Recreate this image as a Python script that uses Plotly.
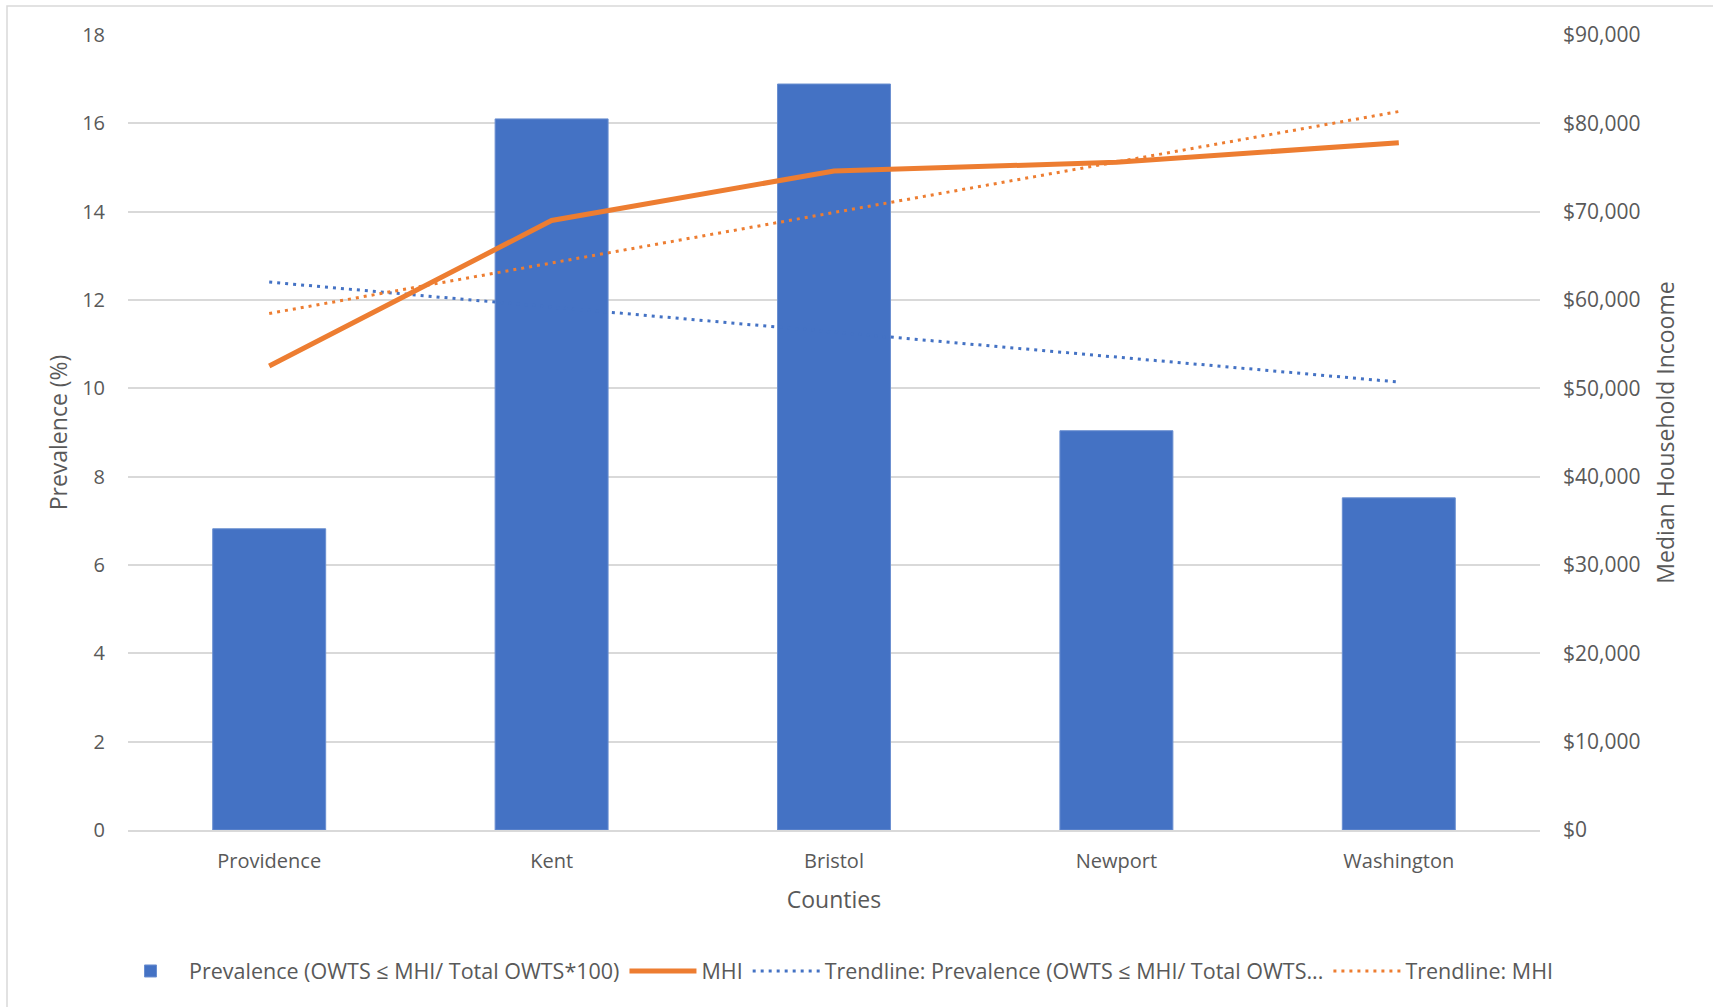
import numpy as np
import plotly.graph_objects as go

# County-level data
counties = ["Providence", "Kent", "Bristol", "Newport", "Washington"]
prevalence = [6.82, 16.10, 16.89, 9.04, 7.52]          # %
mhi = [52530, 69000, 74600, 75590, 77810]              # USD

left_ticks = [0, 2, 4, 6, 8, 10, 12, 14, 16, 18]
right_ticks = [0, 10000, 20000, 30000, 40000, 50000, 60000, 70000, 80000, 90000]
right_labels = [f"${v:,}" for v in right_ticks]

# Linear (least-squares) trendlines over category positions 1..5
pos = np.arange(1, len(counties) + 1)
prev_fit = np.polyval(np.polyfit(pos, prevalence, 1), pos)
mhi_fit = np.polyval(np.polyfit(pos, mhi, 1), pos)

BLUE = "#4472C4"
ORANGE = "#ED7D31"
GRID = "#D9D9D9"
TEXT = "#595959"
FONT = "Open Sans"

fig = go.Figure()

fig.add_trace(go.Bar(
    x=counties, y=prevalence,
    name="Prevalence (OWTS ≤ MHI/ Total OWTS*100)",
    marker=dict(color=BLUE, line=dict(color="#6A8FD0", width=1)),
    yaxis="y",
))
fig.add_trace(go.Scatter(
    x=counties, y=mhi, name="MHI", mode="lines",
    line=dict(color=ORANGE, width=5),
    yaxis="y2",
))
fig.add_trace(go.Scatter(
    x=counties, y=prev_fit,
    name="Trendline: Prevalence (OWTS ≤ MHI/ Total OWTS...",
    mode="lines", line=dict(color=BLUE, width=3, dash="3px,5px"),
    yaxis="y",
))
fig.add_trace(go.Scatter(
    x=counties, y=mhi_fit, name="Trendline: MHI", mode="lines",
    line=dict(color=ORANGE, width=3, dash="3px,5px"),
    yaxis="y2",
))

L, R, T, B = 128, 173, 35, 177
W, H = 1713, 1007
pw, ph = W - L - R, H - T - B

# pixel -> paper conversion helpers
def px_x(p):
    return (p - L) / pw

def px_y(p):
    return (H - B - p) / ph

# outer chart frame (light grey)
fig.add_shape(type="rect", xref="paper", yref="paper",
              x0=px_x(7), x1=px_x(W + 10), y0=px_y(H + 10), y1=px_y(6),
              line=dict(color=GRID, width=1.5), fillcolor="rgba(0,0,0,0)",
              layer="below")

fig.update_layout(
    width=W, height=H,
    margin=dict(l=L, r=R, t=T, b=B, pad=0),
    paper_bgcolor="white", plot_bgcolor="white",
    font=dict(family=FONT, color=TEXT, size=20),
    bargap=0.6,
    xaxis=dict(
        title=dict(text="Counties", font=dict(size=23, color=TEXT), standoff=19),
        tickfont=dict(size=20, color=TEXT),
        showline=True, linecolor=GRID, linewidth=1.5,
        ticks="", showgrid=False,
        ticklabelstandoff=12,
    ),
    yaxis=dict(
        title=dict(text="Prevalence (%)", font=dict(size=23, color=TEXT), standoff=8),
        range=[0, 18], tickvals=left_ticks,
        tickfont=dict(size=20, color=TEXT),
        showgrid=True, gridcolor=GRID, gridwidth=1.5,
        zeroline=False, showline=False, ticks="",
        ticklabelstandoff=22,
    ),
    yaxis2=dict(
        title=dict(text="Median Household Incoome", font=dict(size=23, color=TEXT), standoff=18),
        overlaying="y", side="right",
        range=[0, 90000], tickvals=right_ticks, ticktext=right_labels,
        tickfont=dict(size=21, color=TEXT),
        showgrid=False, zeroline=False, showline=False, ticks="",
        ticklabelstandoff=22,
    ),
    legend=dict(
        orientation="h", x=px_x(112), xanchor="left",
        y=px_y(971), yanchor="middle",
        font=dict(size=21.5, color=TEXT),
        bgcolor="rgba(0,0,0,0)", traceorder="normal",
        itemwidth=67,
    ),
    showlegend=True,
)

fig.write_html("out.html")
